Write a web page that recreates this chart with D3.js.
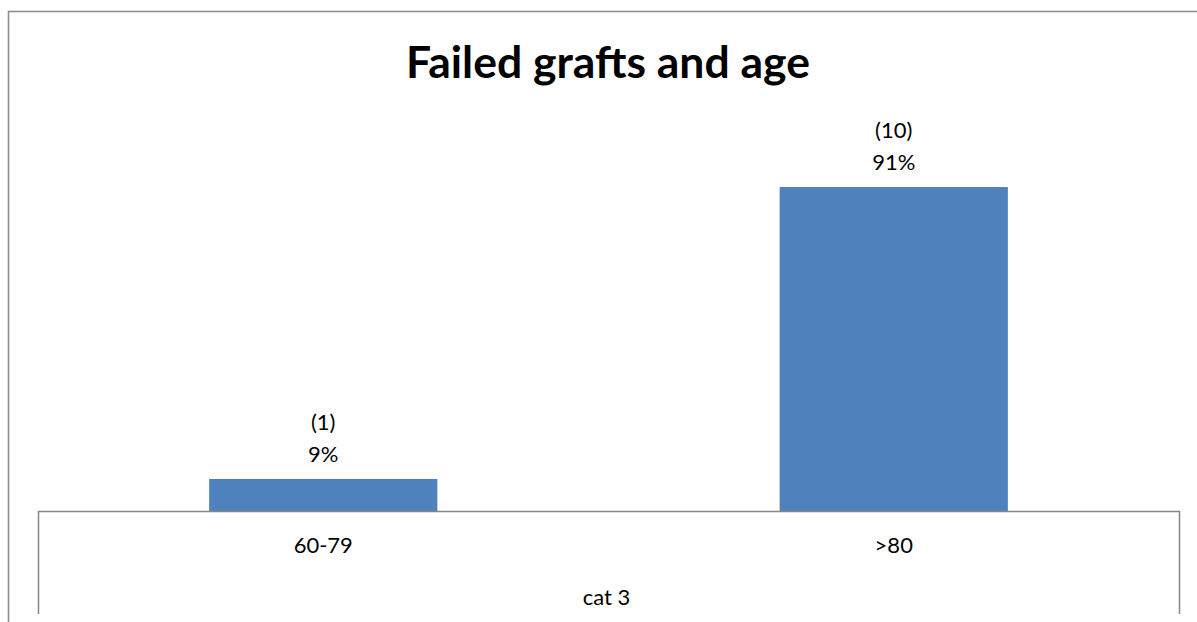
<!DOCTYPE html>
<html><head><meta charset="utf-8">
<script src="https://cdn.jsdelivr.net/npm/d3@7"></script>
<style>
html,body{margin:0;padding:0;background:#fff;}
svg{display:block;}
text{font-family:Lato,"Open Sans",sans-serif;fill:#000;}
</style></head>
<body>
<script>
const title = "Failed grafts and age";
const categories = ["60-79", ">80"];
const counts = [1, 10];
const percents = [9, 91];
const axisTitle = "cat 3";

const W = 1197, H = 622;
const FS = 22;
const svg = d3.select("body").append("svg").attr("width", W).attr("height", H);

// outer chart border
svg.append("path")
  .attr("d", `M8.5,${H} V11.5 H${W}`)
  .attr("fill", "none").attr("stroke", "#8c8c8c").attr("stroke-width", 1.6);

const plot = {left: 38, right: 1179, top: 155, bottom: 511};

const x = d3.scaleBand().domain(categories).range([plot.left, plot.right]).paddingInner(0.6).paddingOuter(0.3);
const y = d3.scaleLinear().domain([0, 100]).range([plot.bottom, plot.top]);

const data = categories.map((c, i) => ({cat: c, count: counts[i], pct: percents[i]}));

svg.selectAll("rect.bar").data(data).enter().append("rect")
  .attr("class", "bar")
  .attr("x", d => x(d.cat))
  .attr("width", x.bandwidth())
  .attr("y", d => y(d.pct))
  .attr("height", d => y(0) - y(d.pct))
  .attr("fill", "#4f81bd");

// data labels
const lab = svg.selectAll("g.lab").data(data).enter().append("g").attr("class", "lab");
lab.append("text")
  .attr("x", d => x(d.cat) + x.bandwidth() / 2)
  .attr("y", d => y(d.pct) - 49)
  .attr("text-anchor", "middle").attr("font-size", FS)
  .text(d => `(${d.count})`);
lab.append("text")
  .attr("x", d => x(d.cat) + x.bandwidth() / 2)
  .attr("y", d => y(d.pct) - 17)
  .attr("text-anchor", "middle").attr("font-size", FS)
  .text(d => `${d.pct}%`);

// category axis
const axisG = svg.append("g").attr("transform", `translate(0,${plot.bottom})`);
axisG.call(d3.axisBottom(x).tickSize(0).tickPadding(0));
axisG.select(".domain").remove();
axisG.selectAll(".tick text")
  .attr("font-size", FS).attr("font-family", "Lato,'Open Sans',sans-serif")
  .attr("fill", "#000").attr("dy", null).attr("y", 42);

svg.append("path")
  .attr("d", `M${plot.left + 0.5},614 V${plot.bottom + 0.5} H${plot.right + 0.5} V614`)
  .attr("fill", "none").attr("stroke", "#868686").attr("stroke-width", 1.5);

svg.append("text")
  .attr("x", (plot.left + plot.right) / 2 - 2).attr("y", 605)
  .attr("text-anchor", "middle").attr("font-size", FS)
  .text(axisTitle);

// title
const t = svg.append("text")
  .attr("x", 608).attr("y", 78)
  .attr("text-anchor", "middle")
  .attr("font-weight", "bold").attr("font-size", 44)
  .text(title);
const len = t.node().getComputedTextLength();
t.attr("font-size", 44 * 404 / len);
</script>
</body></html>
